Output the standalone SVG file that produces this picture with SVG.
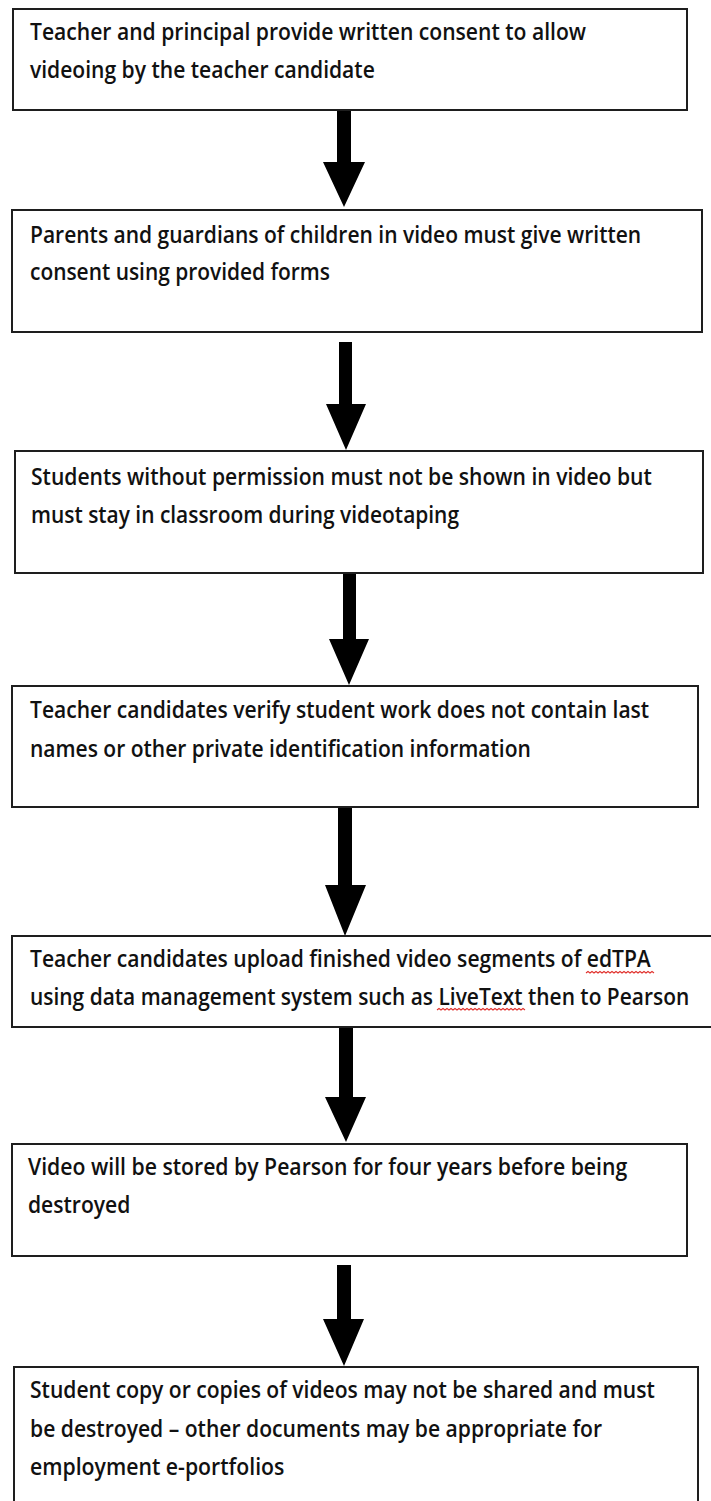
<svg xmlns="http://www.w3.org/2000/svg" width="711" height="1501" viewBox="0 0 711 1501">
<style>
.box{fill:#fff;stroke:#1e1e1e;stroke-width:2}
.t{font-family:"Open Sans","Liberation Sans",sans-serif;font-weight:600;font-size:24px;fill:#111}
.arrow{fill:#000}
.sq{fill:none;stroke:#e0302c;stroke-width:1.1}
</style>
<rect width="711" height="1501" fill="#fff"/>
<g id="connectors">
<polygon class="arrow" points="337,108 351,108 351,162 365,162 344,207 323,162 337,162"/>
<polygon class="arrow" points="339,342 352,342 352,404 366,404 346,450 326,404 339,404"/>
<polygon class="arrow" points="343,573 356,573 356,639 369,639 349,685 329,639 343,639"/>
<polygon class="arrow" points="338,807 352,807 352,885 366,885 345,936 325,885 338,885"/>
<polygon class="arrow" points="339,1027 353,1027 353,1097 366,1097 346,1142 325,1097 339,1097"/>
<polygon class="arrow" points="337,1265 351,1265 351,1319 364,1319 344,1366 323,1319 337,1319"/>
</g>
<g id="node1">
<rect class="box" x="13" y="9" width="674" height="101"/>
<text class="t" transform="matrix(0.8 0 0 1 30 40)" textLength="695" lengthAdjust="spacingAndGlyphs">Teacher and principal provide written consent to allow</text>
<text class="t" transform="matrix(0.8 0 0 1 30 78)" textLength="431" lengthAdjust="spacingAndGlyphs">videoing by the teacher candidate</text>
</g>
<g id="node2">
<rect class="box" x="12" y="210" width="690" height="122"/>
<text class="t" transform="matrix(0.8 0 0 1 30 243)" textLength="764" lengthAdjust="spacingAndGlyphs">Parents and guardians of children in video must give written</text>
<text class="t" transform="matrix(0.8 0 0 1 30 280)" textLength="375" lengthAdjust="spacingAndGlyphs">consent using provided forms</text>
</g>
<g id="node3">
<rect class="box" x="15" y="451" width="688" height="122"/>
<text class="t" transform="matrix(0.8 0 0 1 31 485)" textLength="776" lengthAdjust="spacingAndGlyphs">Students without permission must not be shown in video but</text>
<text class="t" transform="matrix(0.8 0 0 1 31 523)" textLength="535" lengthAdjust="spacingAndGlyphs">must stay in classroom during videotaping</text>
</g>
<g id="node4">
<rect class="box" x="12" y="686" width="686" height="121"/>
<text class="t" transform="matrix(0.8 0 0 1 30 718)" textLength="774" lengthAdjust="spacingAndGlyphs">Teacher candidates verify student work does not contain last</text>
<text class="t" transform="matrix(0.8 0 0 1 30 757)" textLength="626" lengthAdjust="spacingAndGlyphs">names or other private identification information</text>
</g>
<g id="node5">
<rect class="box" x="12" y="936" width="705" height="91"/>
<text class="t" transform="matrix(0.8 0 0 1 30 967)" textLength="776" lengthAdjust="spacingAndGlyphs">Teacher candidates upload finished video segments of edTPA</text>
<text class="t" transform="matrix(0.8 0 0 1 30 1005)" textLength="824" lengthAdjust="spacingAndGlyphs">using data management system such as LiveText then to Pearson</text>
<path class="sq" d="M586,973 l2,-1.5 l2,1.5 l2,-1.5 l2,1.5 l2,-1.5 l2,1.5 l2,-1.5 l2,1.5 l2,-1.5 l2,1.5 l2,-1.5 l2,1.5 l2,-1.5 l2,1.5 l2,-1.5 l2,1.5 l2,-1.5 l2,1.5 l2,-1.5 l2,1.5 l2,-1.5 l2,1.5 l2,-1.5 l2,1.5 l2,-1.5 l2,1.5 l2,-1.5 l2,1.5 l2,-1.5 l2,1.5 l2,-1.5 l2,1.5 l2,-1.5 l2,1.5"/>
<path class="sq" d="M437,1010 l2,-1.5 l2,1.5 l2,-1.5 l2,1.5 l2,-1.5 l2,1.5 l2,-1.5 l2,1.5 l2,-1.5 l2,1.5 l2,-1.5 l2,1.5 l2,-1.5 l2,1.5 l2,-1.5 l2,1.5 l2,-1.5 l2,1.5 l2,-1.5 l2,1.5 l2,-1.5 l2,1.5 l2,-1.5 l2,1.5 l2,-1.5 l2,1.5 l2,-1.5 l2,1.5 l2,-1.5 l2,1.5 l2,-1.5 l2,1.5 l2,-1.5 l2,1.5 l2,-1.5 l2,1.5 l2,-1.5 l2,1.5 l2,-1.5 l2,1.5 l2,-1.5 l2,1.5 l2,-1.5 l2,1.5"/>
</g>
<g id="node6">
<rect class="box" x="12" y="1144" width="675" height="112"/>
<text class="t" transform="matrix(0.8 0 0 1 28 1175)" textLength="749" lengthAdjust="spacingAndGlyphs">Video will be stored by Pearson for four years before being</text>
<text class="t" transform="matrix(0.8 0 0 1 28 1213)" textLength="128" lengthAdjust="spacingAndGlyphs">destroyed</text>
</g>
<g id="node7">
<rect class="box" x="14" y="1367" width="684" height="150"/>
<text class="t" transform="matrix(0.8 0 0 1 30 1398)" textLength="781" lengthAdjust="spacingAndGlyphs">Student copy or copies of videos may not be shared and must</text>
<text class="t" transform="matrix(0.8 0 0 1 30 1437)" textLength="715" lengthAdjust="spacingAndGlyphs">be destroyed – other documents may be appropriate for</text>
<text class="t" transform="matrix(0.8 0 0 1 30 1475)" textLength="318" lengthAdjust="spacingAndGlyphs">employment e-portfolios</text>
</g>
</svg>
